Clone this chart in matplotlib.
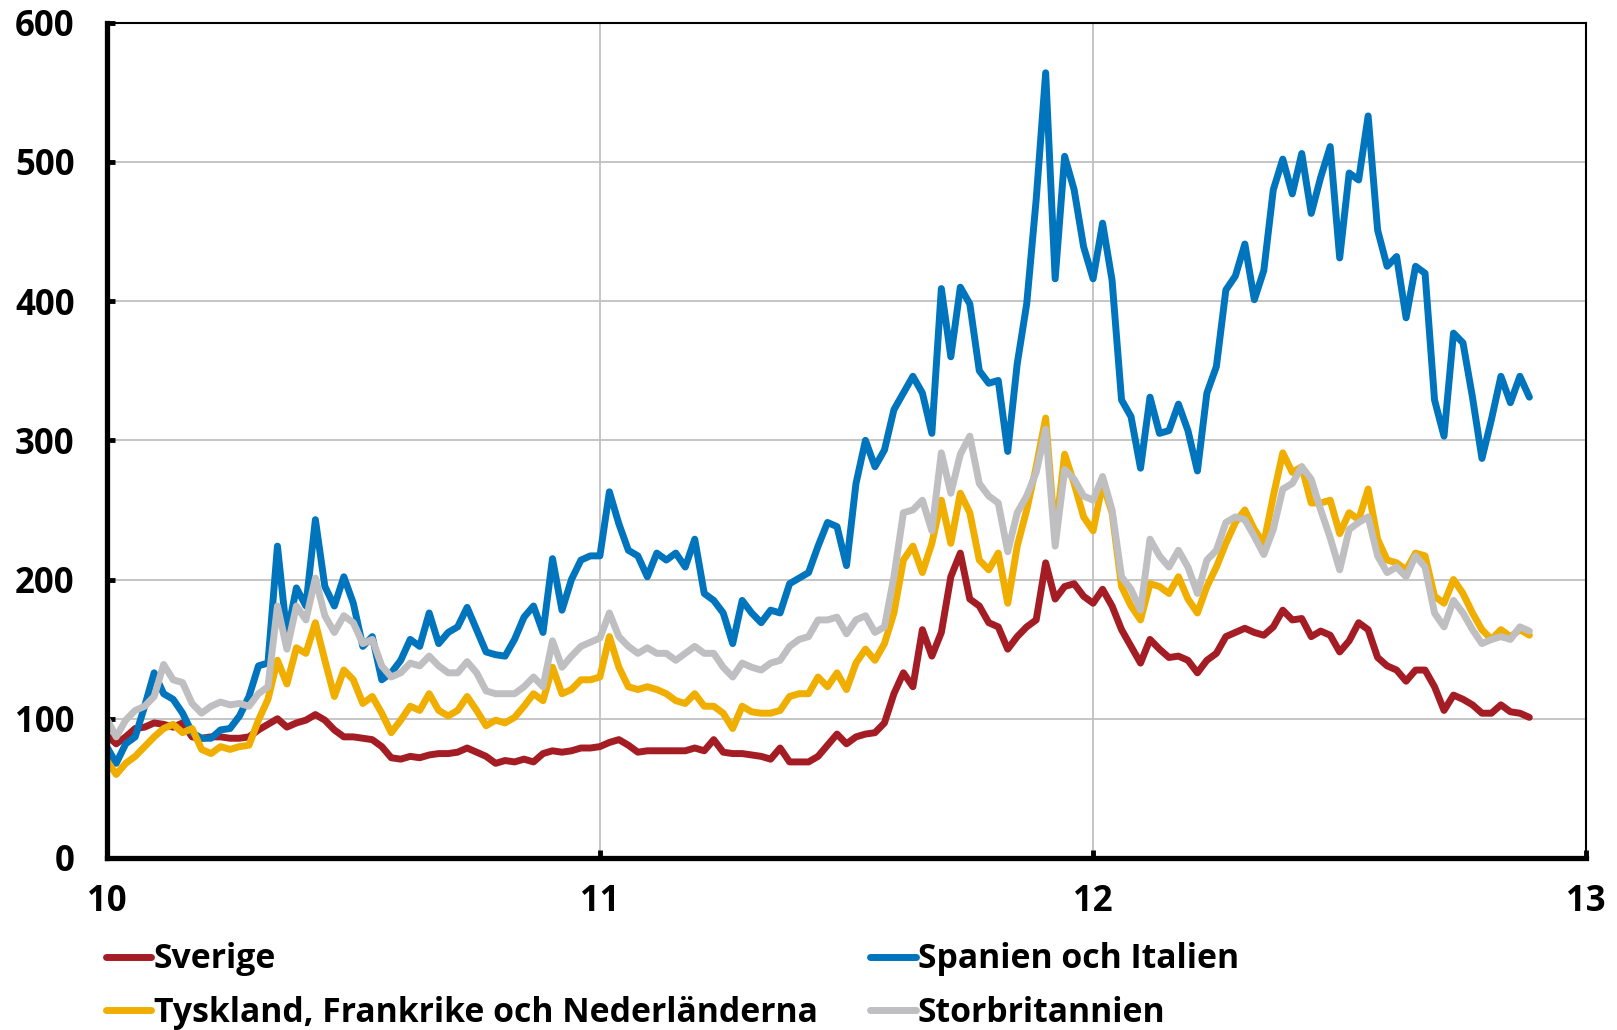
import numpy as np
import matplotlib
matplotlib.use("Agg")
import matplotlib.pyplot as plt

plt.rcParams["font.family"] = ["Open Sans", "DejaVu Sans"]
plt.rcParams["font.weight"] = "bold"

# weekly observations, starting at the beginning of 2010 (x axis in "years", 10 = 2010)
sverige = [
    88, 82, 87, 93, 94, 97, 96, 94, 97, 87, 86, 87, 87, 86, 86, 87, 92, 96, 100, 94,
    97, 99, 103, 99, 92, 87, 87, 86, 85, 80, 72, 71, 73, 72, 74, 75, 75, 76, 79, 76,
    73, 68, 70, 69, 71, 69, 75, 77, 76, 77, 79, 79, 80, 83, 85, 81, 76, 77, 77, 77,
    77, 77, 79, 77, 85, 76, 75, 75, 74, 73, 71, 79, 69, 69, 69, 73, 81, 89, 82, 87,
    89, 90, 97, 118, 133, 123, 164, 145, 162, 202, 219, 186, 181, 169, 166, 150, 159, 166, 171, 212,
    186, 195, 197, 188, 183, 193, 181, 164, 152, 140, 157, 150, 144, 145, 142, 133, 142, 147, 159, 162,
    165, 162, 160, 166, 178, 171, 172, 159, 163, 160, 148, 156, 169, 164, 144, 138, 135, 127, 135, 135,
    123, 106, 117, 114, 110, 104, 104, 110, 105, 104, 101,
]
spanien_italien = [
    80, 68, 82, 87, 109, 133, 118, 114, 104, 90, 86, 86, 92, 93, 102, 116, 138, 140, 224, 160,
    194, 181, 243, 195, 181, 202, 183, 152, 159, 128, 133, 142, 157, 152, 176, 154, 162, 166, 180, 164,
    148, 146, 145, 157, 173, 181, 162, 215, 178, 200, 214, 217, 217, 263, 240, 221, 217, 202, 219, 214,
    219, 209, 229, 190, 185, 176, 154, 185, 176, 169, 178, 176, 197, 201, 205, 224, 241, 238, 210, 269,
    300, 281, 293, 322, 334, 346, 334, 305, 409, 360, 410, 398, 350, 341, 343, 292, 355, 398, 473, 564,
    416, 504, 480, 439, 416, 456, 415, 329, 317, 280, 331, 305, 307, 326, 307, 278, 334, 353, 408, 418,
    441, 401, 422, 480, 502, 477, 506, 463, 489, 511, 431, 492, 487, 533, 451, 425, 432, 388, 425, 420,
    329, 303, 377, 370, 331, 287, 315, 346, 327, 346, 331,
]
tyskland_frankrike_nl = [
    70, 60, 68, 73, 80, 87, 93, 96, 90, 93, 78, 75, 80, 78, 80, 81, 99, 114, 142, 125,
    151, 147, 169, 142, 116, 135, 128, 111, 116, 104, 90, 99, 109, 106, 118, 106, 102, 106, 116, 106,
    95, 99, 97, 101, 109, 118, 113, 137, 118, 121, 128, 128, 130, 159, 137, 123, 121, 123, 121, 118,
    113, 111, 118, 109, 109, 104, 93, 109, 105, 104, 104, 106, 116, 118, 118, 130, 123, 133, 121, 140,
    150, 142, 154, 176, 214, 224, 205, 226, 257, 226, 262, 248, 214, 207, 219, 183, 224, 250, 281, 316,
    231, 290, 269, 245, 235, 269, 248, 195, 181, 171, 197, 195, 190, 202, 186, 176, 195, 209, 226, 241,
    250, 236, 226, 260, 291, 277, 281, 255, 255, 257, 233, 248, 243, 265, 229, 214, 212, 207, 219, 217,
    188, 183, 200, 190, 176, 164, 157, 164, 159, 164, 160,
]
storbritannien = [
    100, 87, 99, 106, 109, 116, 139, 128, 126, 111, 104, 109, 112, 110, 111, 109, 118, 123, 181, 150,
    181, 171, 201, 174, 162, 174, 169, 154, 157, 138, 130, 133, 140, 138, 145, 138, 133, 133, 141, 133,
    120, 118, 118, 118, 123, 130, 123, 156, 137, 145, 152, 155, 158, 176, 159, 152, 147, 151, 147, 147,
    142, 147, 152, 147, 147, 137, 130, 140, 137, 135, 140, 142, 152, 157, 159, 171, 171, 173, 161, 171,
    174, 162, 166, 202, 248, 250, 257, 235, 291, 262, 290, 303, 269, 260, 255, 220, 248, 260, 277, 308,
    224, 279, 272, 260, 257, 274, 250, 202, 193, 178, 229, 217, 209, 221, 209, 190, 214, 221, 241, 245,
    243, 231, 218, 236, 265, 269, 281, 272, 250, 230, 207, 236, 241, 245, 217, 205, 209, 202, 217, 209,
    176, 166, 185, 176, 164, 154, 157, 159, 157, 166, 163,
]

weeks = np.arange(len(sverige))
t = 10 + weeks / 52.0

series = [
    ("Sverige", sverige, "#A51D24"),
    ("Spanien och Italien", spanien_italien, "#0075BD"),
    ("Tyskland, Frankrike och Nederländerna", tyskland_frankrike_nl, "#F0AE00"),
    ("Storbritannien", storbritannien, "#BFBFC1"),
]

fig = plt.figure(figsize=(16.17, 10.30), dpi=100)
ax = fig.add_axes([0.066, 0.167, 0.915, 0.811])

lines = {}
for name, vals, col in series:
    (ln,) = ax.plot(t, vals, color=col, lw=5.0, solid_joinstyle="round", solid_capstyle="round")
    lines[name] = ln

ax.set_xlim(10, 13)
ax.set_ylim(0, 600)
ax.set_xticks([10, 11, 12, 13])
ax.set_yticks(range(0, 601, 100))
ax.grid(True, color="#C0C0C0", lw=1.3)
ax.set_axisbelow(True)

for side in ("left", "bottom"):
    ax.spines[side].set_linewidth(3.8)
for side in ("top", "right"):
    ax.spines[side].set_linewidth(1.5)

ax.tick_params(axis="both", direction="in", length=6, width=3.5, labelsize=25, color="black")
ax.tick_params(axis="y", pad=23)
ax.tick_params(axis="x", pad=19)
for lab in ax.get_xticklabels() + ax.get_yticklabels():
    lab.set_fontweight("bold")

leg_kw = dict(loc="upper left", frameon=False, fontsize=24.3, handlelength=1.35,
              handletextpad=0.07, labelspacing=0.58, borderpad=0, borderaxespad=0)
fig.legend([lines["Sverige"], lines["Tyskland, Frankrike och Nederländerna"]],
           ["Sverige", "Tyskland, Frankrike och Nederländerna"],
           bbox_to_anchor=(0.0655, 0.085), **leg_kw)
fig.legend([lines["Spanien och Italien"], lines["Storbritannien"]],
           ["Spanien och Italien", "Storbritannien"],
           bbox_to_anchor=(0.538, 0.085), **leg_kw)

fig.savefig("out.png", dpi=100)
plt.close(fig)
